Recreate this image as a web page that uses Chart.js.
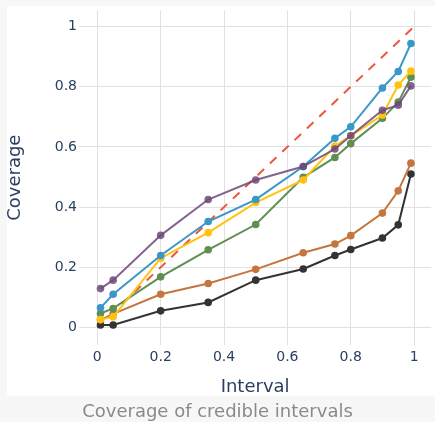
<!DOCTYPE html>
<html><head><meta charset="utf-8">
<script src="https://cdn.jsdelivr.net/npm/chart.js@4"></script>
<style>html,body{margin:0;padding:0;background:#f7f7f7;overflow:hidden}canvas{display:block}</style>
</head><body>
<canvas id="c" width="435" height="422"></canvas>
<script>
const intervals = [0.01,0.05,0.2,0.35,0.5,0.65,0.75,0.8,0.9,0.95,0.99];
const purpleSeries = [0.129,0.157,0.306,0.425,0.490,0.535,0.593,0.637,0.722,0.739,0.803];
const blueSeries   = [0.065,0.110,0.239,0.352,0.425,0.535,0.629,0.667,0.796,0.851,0.944];
const yellowSeries = [0.026,0.035,0.230,0.315,0.415,0.490,0.603,0.637,0.706,0.806,0.852];
const greenSeries  = [0.046,0.063,0.168,0.258,0.342,0.499,0.565,0.611,0.695,0.749,0.832];
const orangeSeries = [0.025,0.045,0.110,0.146,0.193,0.248,0.277,0.305,0.380,0.454,0.546];
const blackSeries  = [0.008,0.008,0.055,0.083,0.157,0.194,0.239,0.259,0.297,0.341,0.510];
const idealX = [0,1];
const idealY = [0,1];
const tickValues = [0,0.2,0.4,0.6,0.8,1];

const pts = (xs, ys) => xs.map((x,i)=>({x, y: ys[i]}));
const series = (data, color) => ({
  data: pts(intervals, data), borderColor: color, backgroundColor: color,
  borderWidth: 2, pointRadius: 3.8, pointBorderWidth: 0, pointHoverRadius: 3.8, tension: 0
});

const cardBg = {
  id: 'cardBg',
  beforeDraw(chart) {
    const ctx = chart.ctx;
    ctx.save();
    ctx.fillStyle = '#ffffff';
    ctx.fillRect(7, 6, 428, 390);
    ctx.restore();
  }
};

const FONT = "'DejaVu Sans', Verdana, sans-serif";
const tickFmt = v => String(+Number(v).toFixed(1));

new Chart(document.getElementById('c'), {
  type: 'line',
  data: {
    datasets: [
      series(purpleSeries, 'rgba(110,72,122,0.85)'),
      series(blueSeries, '#3b97c7'),
      series(yellowSeries, '#ffc210'),
      series(greenSeries, '#5f8f52'),
      series(orangeSeries, '#c5763f'),
      series(blackSeries, '#333333'),
      { data: pts(idealX, idealY), borderColor: '#ef553b', borderWidth: 2,
        borderDash: [9, 8], pointRadius: 0, fill: false }
    ]
  },
  options: {
    responsive: false,
    animation: false,
    events: [],
    layout: { padding: { top: 9, left: 0, right: 0, bottom: 0 } },
    plugins: {
      legend: { display: false },
      tooltip: { enabled: false },
      title: {
        display: true, position: 'bottom', text: 'Coverage of credible intervals',
        color: '#8a8a8a', font: { family: FONT, size: 18, weight: 'normal', lineHeight: 1 },
        padding: { top: 7, bottom: 1 }
      }
    },
    scales: {
      x: {
        type: 'linear', min: -0.0578, max: 1.054,
        afterBuildTicks: s => { s.ticks = tickValues.map(v => ({ value: v })); },
        afterFit: s => { s.height = 51; },
        ticks: { callback: tickFmt, color: '#2a3f5f', font: { family: FONT, size: 14 }, padding: 4, maxRotation: 0 },
        grid: { color: '#e1e1e1', lineWidth: 1, drawTicks: false },
        border: { display: false },
        title: { display: true, text: 'Interval', color: '#2a3f5f',
          font: { family: FONT, size: 18, lineHeight: 1 }, padding: { top: 0, bottom: 0 } }
      },
      y: {
        type: 'linear', min: -0.0586, max: 1.054,
        afterBuildTicks: s => { s.ticks = tickValues.map(v => ({ value: v })); },
        afterFit: s => { s.width = 79; },
        ticks: { callback: tickFmt, color: '#2a3f5f', font: { family: FONT, size: 14 }, padding: 2 },
        grid: { color: '#e1e1e1', lineWidth: 1, drawTicks: false },
        border: { display: false },
        title: { display: true, text: 'Coverage', color: '#2a3f5f',
          font: { family: FONT, size: 18, lineHeight: 1.2 }, padding: { top: 5, bottom: 0 } }
      }
    }
  },
  plugins: [cardBg]
});
</script>
</body></html>
